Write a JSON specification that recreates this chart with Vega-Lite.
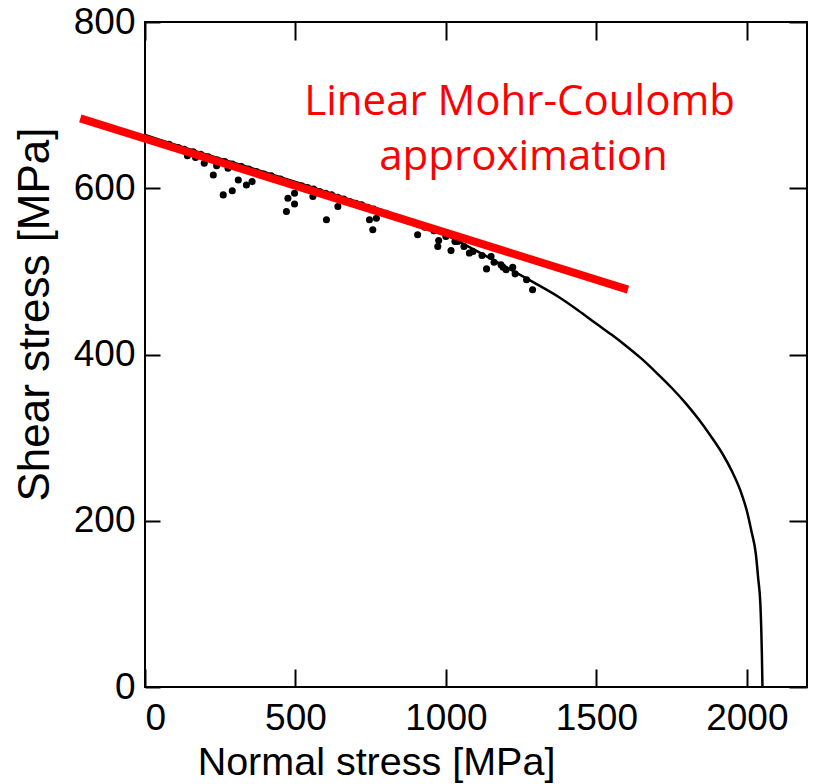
{
  "$schema": "https://vega.github.io/schema/vega-lite/v6.json",
  "autosize": {"type": "none"},
  "width": 662,
  "height": 665,
  "padding": {"left": 145, "top": 22, "right": 10, "bottom": 97},
  "background": "white",
  "config": {
    "view": {"stroke": "black", "strokeWidth": 2},
    "axis": {
      "labelFont": "Liberation Sans", "titleFont": "Liberation Sans",
      "labelColor": "black", "titleColor": "black", "grid": false, "domain": false,
      "tickColor": "black", "tickWidth": 2, "labelFontSize": 37, "titleFontSize": 39.5,
      "titleFontWeight": "normal", "format": "d"
    }
  },
  "datasets": {
    "curve": [
      {"sigma": 0, "tau": 664}, {"sigma": 100, "tau": 652.5}, {"sigma": 200, "tau": 641}, {"sigma": 300, "tau": 630},
      {"sigma": 400, "tau": 619}, {"sigma": 500, "tau": 607.5}, {"sigma": 600, "tau": 596}, {"sigma": 700, "tau": 584},
      {"sigma": 800, "tau": 572}, {"sigma": 875, "tau": 562.5}, {"sigma": 950, "tau": 553}, {"sigma": 1000, "tau": 544},
      {"sigma": 1100, "tau": 525}, {"sigma": 1200, "tau": 505}, {"sigma": 1290, "tau": 487}, {"sigma": 1380, "tau": 468},
      {"sigma": 1440, "tau": 453}, {"sigma": 1500, "tau": 437}, {"sigma": 1550, "tau": 424}, {"sigma": 1600, "tau": 410},
      {"sigma": 1650, "tau": 395}, {"sigma": 1700, "tau": 378}, {"sigma": 1750, "tau": 360}, {"sigma": 1800, "tau": 340},
      {"sigma": 1840, "tau": 322}, {"sigma": 1880, "tau": 302}, {"sigma": 1920, "tau": 280}, {"sigma": 1950, "tau": 260},
      {"sigma": 1980, "tau": 235}, {"sigma": 2000, "tau": 212}, {"sigma": 2015, "tau": 188}, {"sigma": 2030, "tau": 160},
      {"sigma": 2038, "tau": 130}, {"sigma": 2045, "tau": 100}, {"sigma": 2048, "tau": 70}, {"sigma": 2050, "tau": 40},
      {"sigma": 2052, "tau": 0}
    ],
    "pts": [
      {"sigma": 141, "tau": 639}, {"sigma": 168, "tau": 637}, {"sigma": 197, "tau": 630}, {"sigma": 227, "tau": 616},
      {"sigma": 238, "tau": 627}, {"sigma": 260, "tau": 592}, {"sigma": 290, "tau": 597}, {"sigma": 310, "tau": 610},
      {"sigma": 337, "tau": 604}, {"sigma": 356, "tau": 608}, {"sigma": 276, "tau": 624}, {"sigma": 470, "tau": 572},
      {"sigma": 475, "tau": 588}, {"sigma": 497, "tau": 594}, {"sigma": 497, "tau": 581}, {"sigma": 558, "tau": 590},
      {"sigma": 603, "tau": 562}, {"sigma": 641, "tau": 578}, {"sigma": 746, "tau": 562}, {"sigma": 757, "tau": 550},
      {"sigma": 769, "tau": 564}, {"sigma": 906, "tau": 544}, {"sigma": 973, "tau": 530}, {"sigma": 976, "tau": 537},
      {"sigma": 1017, "tau": 525}, {"sigma": 1039, "tau": 536}, {"sigma": 1078, "tau": 522}, {"sigma": 1135, "tau": 503},
      {"sigma": 1150, "tau": 518}, {"sigma": 1183, "tau": 508}, {"sigma": 1200, "tau": 502}, {"sigma": 1222, "tau": 505},
      {"sigma": 1268, "tau": 490}, {"sigma": 1288, "tau": 478},
      {"sigma": 80, "tau": 653}, {"sigma": 110, "tau": 649}, {"sigma": 130, "tau": 647}, {"sigma": 160, "tau": 644},
      {"sigma": 185, "tau": 641}, {"sigma": 210, "tau": 638}, {"sigma": 240, "tau": 634}, {"sigma": 265, "tau": 632},
      {"sigma": 290, "tau": 629}, {"sigma": 320, "tau": 626}, {"sigma": 345, "tau": 623}, {"sigma": 370, "tau": 620},
      {"sigma": 395, "tau": 617}, {"sigma": 420, "tau": 615}, {"sigma": 450, "tau": 611}, {"sigma": 520, "tau": 603},
      {"sigma": 540, "tau": 601}, {"sigma": 560, "tau": 599}, {"sigma": 580, "tau": 596}, {"sigma": 600, "tau": 594},
      {"sigma": 620, "tau": 592}, {"sigma": 640, "tau": 589}, {"sigma": 660, "tau": 587}, {"sigma": 680, "tau": 584},
      {"sigma": 700, "tau": 582}, {"sigma": 720, "tau": 580}, {"sigma": 740, "tau": 577}, {"sigma": 760, "tau": 575},
      {"sigma": 780, "tau": 572}, {"sigma": 800, "tau": 570}, {"sigma": 830, "tau": 566}, {"sigma": 850, "tau": 564},
      {"sigma": 870, "tau": 561}, {"sigma": 890, "tau": 559}, {"sigma": 910, "tau": 556}, {"sigma": 930, "tau": 553},
      {"sigma": 960, "tau": 549}, {"sigma": 1000, "tau": 542}, {"sigma": 1030, "tau": 536}, {"sigma": 1060, "tau": 530},
      {"sigma": 1090, "tau": 524}, {"sigma": 1120, "tau": 519}, {"sigma": 1160, "tau": 511}, {"sigma": 1190, "tau": 505},
      {"sigma": 1230, "tau": 497}
    ],
    "red": [
      {"sigma": -215, "tau": 684}, {"sigma": 1605, "tau": 478}
    ],
    "label": [
      {"sigma": 1245, "tau": 688, "text": "Linear Mohr-Coulomb"},
      {"sigma": 1258, "tau": 622, "text": "approximation"}
    ]
  },
  "layer": [
    {
      "data": {"name": "curve"},
      "mark": {"type": "line", "color": "black", "strokeWidth": 2.5, "interpolate": "monotone"},
      "encoding": {
        "x": {"field": "sigma", "type": "quantitative", "scale": {"domain": [0, 2200], "nice": false},
              "axis": {"orient": "bottom", "values": [0, 500, 1000, 1500, 2000], "tickSize": -18, "labelPadding": 31,
                       "title": "Normal stress [MPa]", "titleX": 231, "titleY": 87, "titleBaseline": "alphabetic", "titleAlign": "center", "titleAnchor": null}},
        "y": {"field": "tau", "type": "quantitative", "scale": {"domain": [0, 800], "nice": false},
              "axis": {"orient": "left", "values": [0, 200, 400, 600, 800], "tickSize": -15, "labelPadding": 25,
                       "title": "Shear stress [MPa]", "titleFontSize": 44, "titleX": -97, "titleY": 292, "titleBaseline": "alphabetic", "titleAlign": "center", "titleAngle": -90}}
      }
    },
    {
      "data": {"name": "curve"},
      "mark": {"type": "line", "opacity": 0},
      "encoding": {
        "x": {"field": "sigma", "type": "quantitative", "scale": {"domain": [0, 2200], "nice": false},
              "axis": {"orient": "top", "values": [0, 500, 1000, 1500, 2000], "tickSize": -18, "labels": false, "title": null}},
        "y": {"field": "tau", "type": "quantitative", "scale": {"domain": [0, 800], "nice": false},
              "axis": {"orient": "right", "values": [0, 200, 400, 600, 800], "tickSize": -18, "labels": false, "title": null}}
      }
    },
    {
      "data": {"name": "pts"},
      "mark": {"type": "circle", "color": "black", "size": 50, "opacity": 1},
      "encoding": {
        "x": {"field": "sigma", "type": "quantitative", "axis": null},
        "y": {"field": "tau", "type": "quantitative", "axis": null}
      }
    },
    {
      "data": {"name": "red"},
      "mark": {"type": "line", "color": "#ff0000", "strokeWidth": 8, "clip": false, "strokeCap": "butt"},
      "encoding": {
        "x": {"field": "sigma", "type": "quantitative", "axis": null},
        "y": {"field": "tau", "type": "quantitative", "axis": null}
      }
    },
    {
      "data": {"name": "label"},
      "mark": {"type": "text", "color": "#ff0000", "font": "Open Sans", "fontSize": 42, "align": "center", "baseline": "alphabetic"},
      "encoding": {
        "x": {"field": "sigma", "type": "quantitative", "axis": null},
        "y": {"field": "tau", "type": "quantitative", "axis": null},
        "text": {"field": "text"}
      }
    }
  ],
  "resolve": {"axis": {"x": "independent", "y": "independent"}}
}
